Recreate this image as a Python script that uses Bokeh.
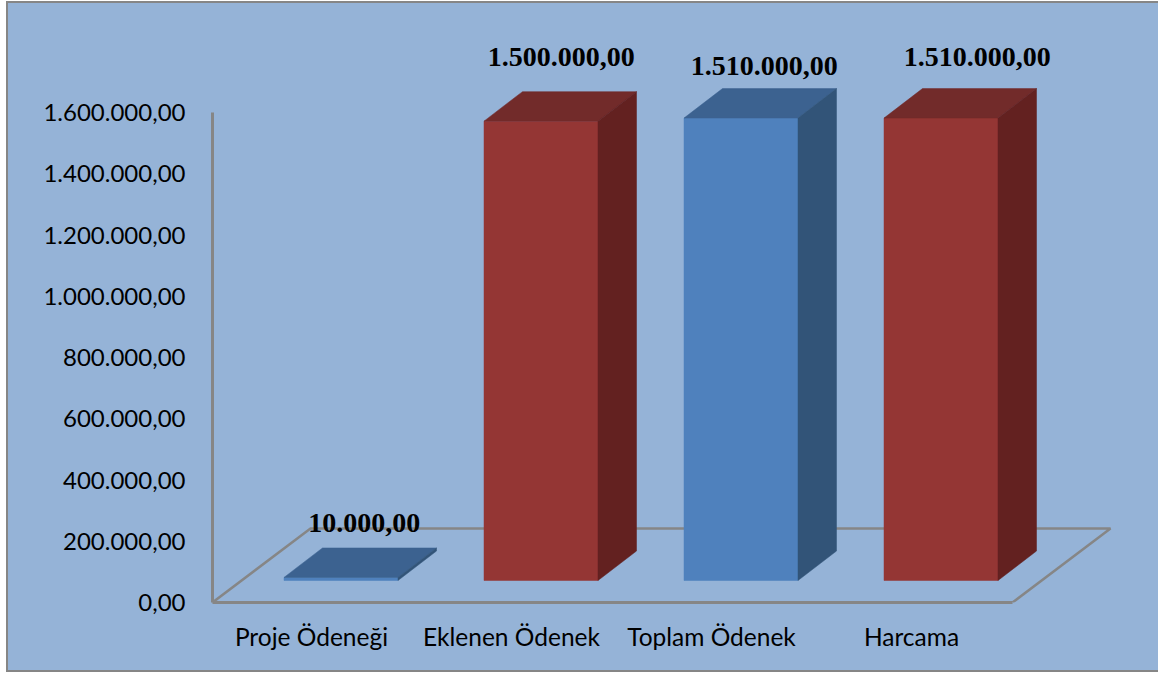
from bokeh.plotting import figure
from bokeh.models import FixedTicker, Range1d
from bokeh.core.properties import value
from bokeh.embed import file_html
from bokeh.resources import INLINE

categories = ["Proje Ödeneği", "Eklenen Ödenek", "Toplam Ödenek", "Harcama"]
amounts = [10000, 1500000, 1510000, 1510000]
y_ticks = [0, 200000, 400000, 600000, 800000, 1000000, 1200000, 1400000, 1600000]
front_colors = ["#4F81BD", "#943634", "#4F81BD", "#943634"]
top_colors = ["#3C6290", "#722B2A", "#3C6290", "#722B2A"]
side_colors = ["#325478", "#632120", "#325478", "#632120"]

BG = "#95B3D7"
GREY = "#868686"
PX_X = 200.0            # pixels per category
PX_Y = 61.25 / 200000   # pixels per value unit


def fmt(v):
    return f"{v:,.2f}".replace(",", "#").replace(".", ",").replace("#", ".")


xpos = list(range(len(categories)))
bar_shift = 29.5 / PX_X   # bars stand further back on the floor than the axis labels
half = 57 / PX_X
dx = 38.5 / PX_X
dy = 29.5 / PX_Y
base = 22 / PX_Y
x0 = (212 - 311) / PX_X
x1 = (1012 - 311) / PX_X
fdx = 98 / PX_X
fdy = 74 / PX_Y

p = figure(width=1152, height=671, output_backend="svg", toolbar_location=None,
           x_range=Range1d(x0, x0 + 946 / PX_X), y_range=Range1d(0, 599 / PX_Y),
           min_border_left=204, min_border_right=2, min_border_top=0, min_border_bottom=72,
           margin=(1, 0, 0, 6), background_fill_color=None, border_fill_color=None,
           outline_line_color=None)
p.styles = {"border-left": f"2px solid {GREY}", "border-top": f"2px solid {GREY}",
            "border-bottom": f"2px solid {GREY}", "box-sizing": "border-box",
            "background-color": BG}
p.grid.visible = False

yax = p.yaxis[0]
yax.ticker = FixedTicker(ticks=y_ticks)
yax.major_label_overrides = {t: fmt(t) for t in y_ticks}
yax.major_tick_line_color = None
yax.minor_tick_line_color = None
yax.axis_line_color = GREY
yax.axis_line_width = 3
yax.bounds = (0, 1600000)
yax.major_label_standoff = 21
yax.major_label_text_font = "Lato"
yax.major_label_text_font_size = "24px"
yax.major_label_text_color = "#000000"

xax = p.xaxis[0]
xax.ticker = FixedTicker(ticks=xpos)
xax.major_label_overrides = {i: c for i, c in enumerate(categories)}
xax.major_tick_line_color = None
xax.minor_tick_line_color = None
xax.axis_line_color = GREY
xax.axis_line_width = 3
xax.bounds = (x0, x1)
xax.major_label_standoff = 13
xax.major_label_text_font = "Lato"
xax.major_label_text_font_size = "24.5px"
xax.major_label_text_color = "#000000"

# floor outline
p.line([x0, x0 + fdx, x1 + fdx, x1], [0, fdy, fdy, 0], line_color=GREY, line_width=2.5)

cx = [x + bar_shift for x in xpos]
tops = [a + base for a in amounts]
p.vbar(x=cx, width=2 * half, bottom=base, top=tops, fill_color=front_colors, line_color=front_colors, line_width=0.5)
p.patches(
    xs=[[c - half, c + half, c + half + dx, c - half + dx] for c in cx],
    ys=[[t, t, t + dy, t + dy] for t in tops],
    fill_color=top_colors, line_color=top_colors, line_width=0.5)
p.patches(
    xs=[[c + half, c + half + dx, c + half + dx, c + half] for c in cx],
    ys=[[base, base + dy, t + dy, t] for t in tops],
    fill_color=side_colors, line_color=side_colors, line_width=0.5)

label_dx = [4, 1, 4, 17]
label_dy = [25, 35, 23, 32]
p.text(x=[c + dx / 2 for c in cx], y=[t + dy for t in tops],
       text=[fmt(a) for a in amounts], x_offset=label_dx, y_offset=[-d for d in label_dy],
       text_font=value("Liberation Serif"), text_font_style="bold", text_font_size="28px",
       text_align="center", text_baseline="middle", text_color="#000000")

open("out.html", "w").write(file_html(p, INLINE))
